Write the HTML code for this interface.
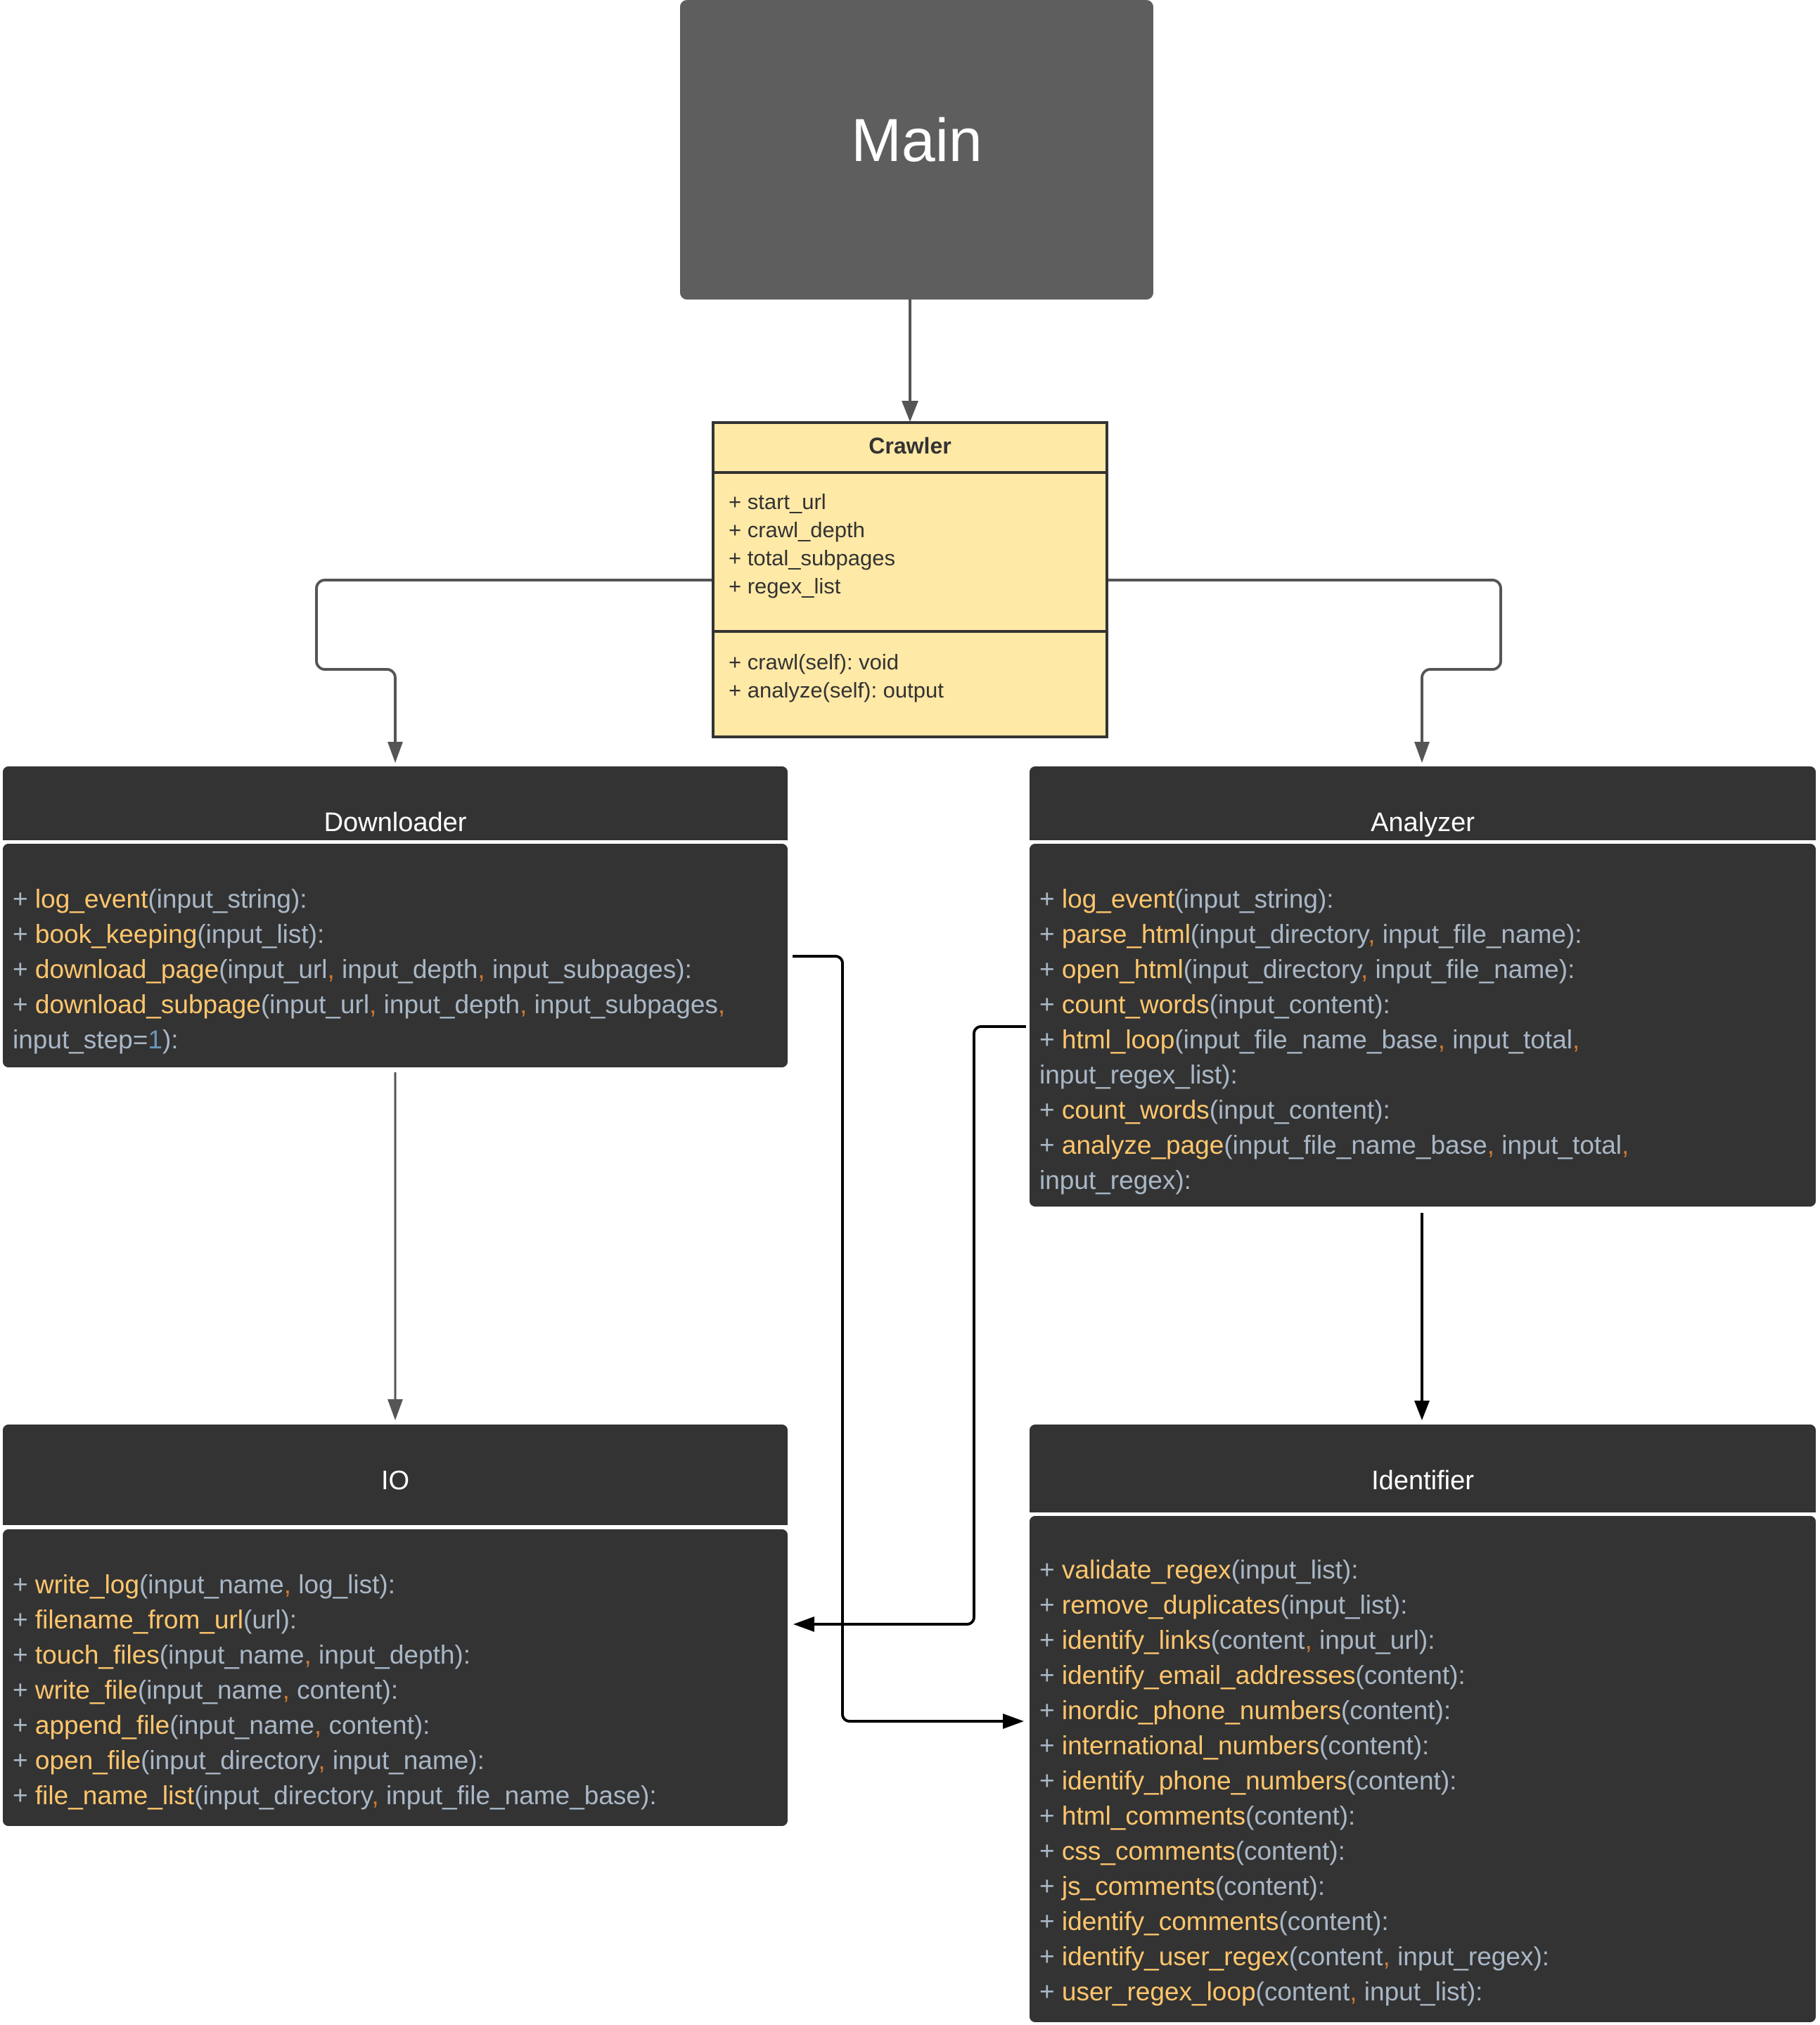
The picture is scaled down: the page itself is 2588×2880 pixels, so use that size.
<!DOCTYPE html>
<html><head><meta charset="utf-8"><style>
body{margin:0;width:2588px;height:2880px;background:#fff;position:relative;overflow:hidden;font-family:"Liberation Sans",Arial,sans-serif}
.a{position:absolute}
.hd{background:#333;border-radius:8px 8px 0 0;color:#fff;font-size:38px;text-align:center;box-sizing:border-box}
.bd{background:#333;border-radius:8px;box-sizing:border-box;padding-left:14px;font-size:37px;line-height:50px;color:#a9b7c6;white-space:nowrap}
.f{color:#ffc66d}.c{color:#cc7832}.p{color:#fff}.n{color:#6897bb}
</style></head><body>
<div class="a" style="left:967px;top:0;width:673px;height:426px;background:#5e5e5e;border-radius:10px;color:#fff;font-size:86px;text-align:center;line-height:400px">Main</div>

<div class="a" style="left:1012px;top:599px;width:564px;height:451px;background:#ffe9a6;border:4px solid #333;box-sizing:border-box;font-size:31px;color:#333">
 <div style="height:67px;border-bottom:4px solid #333;text-align:center;font-weight:bold;line-height:62px;font-size:32px">Crawler</div>
 <div style="height:226px;border-bottom:4px solid #333;padding:20px 0 0 20px;box-sizing:border-box;line-height:40px">+ start_url<br>+ crawl_depth<br>+ total_subpages<br>+ regex_list</div>
 <div style="padding:22px 0 0 20px;line-height:40px">+ crawl(self): void<br>+ analyze(self): output</div>
</div>

<svg class="a" style="left:0;top:0" width="2588" height="2880">
<g fill="none" stroke="#555" stroke-width="4">
<path d="M1294 426V575"/>
<path d="M1012 825H462a12 12 0 0 0-12 12V940a12 12 0 0 0 12 12H550a12 12 0 0 1 12 12V1060"/>
<path d="M1576 825H2122a12 12 0 0 1 12 12V940a12 12 0 0 1-12 12H2034a12 12 0 0 0-12 12V1060"/>
<path d="M562 1525V1995" stroke-width="3"/>
</g>
<g fill="#555">
<polygon points="1282,570 1306,570 1294,600"/>
<polygon points="551,1055 573,1055 562,1085"/>
<polygon points="2011,1055 2033,1055 2022,1085"/>
<polygon points="551,1990 573,1990 562,2020"/>
</g>
<g fill="none" stroke="#000" stroke-width="4">
<path d="M1127 1360H1188a10 10 0 0 1 10 10V2438a10 10 0 0 0 10 10H1430"/>
<path d="M1459 1460H1395a10 10 0 0 0-10 10V2300a10 10 0 0 1-10 10H1150"/>
<path d="M2022 1725V1995"/>
</g>
<g fill="#000">
<polygon points="1426,2437 1426,2459 1456,2448"/>
<polygon points="1158,2299 1158,2321 1128,2310"/>
<polygon points="2011,1992 2033,1992 2022,2020"/>
</g>
</svg>

<div class="a hd" style="left:4px;top:1090px;width:1116px;height:105px;line-height:160px">Downloader</div>
<div class="a bd" style="left:4px;top:1200px;width:1116px;height:318px;padding-top:54px">
+ <span class="f">log_event</span>(input_string):<br>
+ <span class="f">book_keeping</span>(input_list):<br>
+ <span class="f">download_page</span>(input_url<span class="c">,</span> input_depth<span class="c">,</span> input_subpages):<br>
+ <span class="f">download_subpage</span>(input_url<span class="c">,</span> input_depth<span class="c">,</span> input_subpages<span class="c">,</span><br>input_step=<span class="n">1</span>):
</div>

<div class="a hd" style="left:1464px;top:1090px;width:1118px;height:105px;line-height:160px">Analyzer</div>
<div class="a bd" style="left:1464px;top:1200px;width:1118px;height:516px;padding-top:54px">
+ <span class="f">log_event</span>(input_string):<br>
+ <span class="f">parse_html</span>(input_directory<span class="c">,</span> input_file_name):<br>
+ <span class="f">open_html</span>(input_directory<span class="c">,</span> input_file_name):<br>
+ <span class="f">count_words</span>(input_content):<br>
+ <span class="f">html_loop</span>(input_file_name_base<span class="c">,</span> input_total<span class="c">,</span><br>input_regex_list):<br>
+ <span class="f">count_words</span>(input_content):<br>
+ <span class="f">analyze_page</span>(input_file_name_base<span class="c">,</span> input_total<span class="c">,</span><br>input_regex):
</div>

<div class="a hd" style="left:4px;top:2026px;width:1116px;height:143px;line-height:160px">IO</div>
<div class="a bd" style="left:4px;top:2175px;width:1116px;height:422px;padding-top:54px">
+ <span class="f">write_log</span>(input_name<span class="c">,</span> log_list):<br>
+ <span class="f">filename_from_url</span>(url):<br>
+ <span class="f">touch_files</span>(input_name<span class="c">,</span> input_depth):<br>
+ <span class="f">write_file</span>(input_name<span class="c">,</span> content):<br>
+ <span class="f">append_file</span>(input_name<span class="c">,</span> content):<br>
+ <span class="f">open_file</span>(input_directory<span class="c">,</span> input_name):<br>
+ <span class="f">file_name_list</span>(input_directory<span class="c">,</span> input_file_name_base):
</div>

<div class="a hd" style="left:1464px;top:2026px;width:1118px;height:125px;line-height:160px">Identifier</div>
<div class="a bd" style="left:1464px;top:2156px;width:1118px;height:720px;padding-top:52px">
+ <span class="f">validate_regex</span>(input_list):<br>
+ <span class="f">remove_duplicates</span>(input_list):<br>
+ <span class="f">identify_links</span>(content<span class="c">,</span> input_url):<br>
+ <span class="f">identify_email_addresses</span>(content):<br>
+ <span class="f">inordic_phone_numbers</span>(content):<br>
+ <span class="f">international_numbers</span>(content):<br>
+ <span class="f">identify_phone_numbers</span>(content):<br>
+ <span class="f">html_comments</span>(content):<br>
+ <span class="f">css_comments</span>(content):<br>
+ <span class="f">js_comments</span>(content):<br>
+ <span class="f">identify_comments</span>(content):<br>
+ <span class="f">identify_user_regex</span>(content<span class="c">,</span> input_regex):<br>
+ <span class="f">user_regex_loop</span>(content<span class="c">,</span> input_list):
</div>
</body></html>
